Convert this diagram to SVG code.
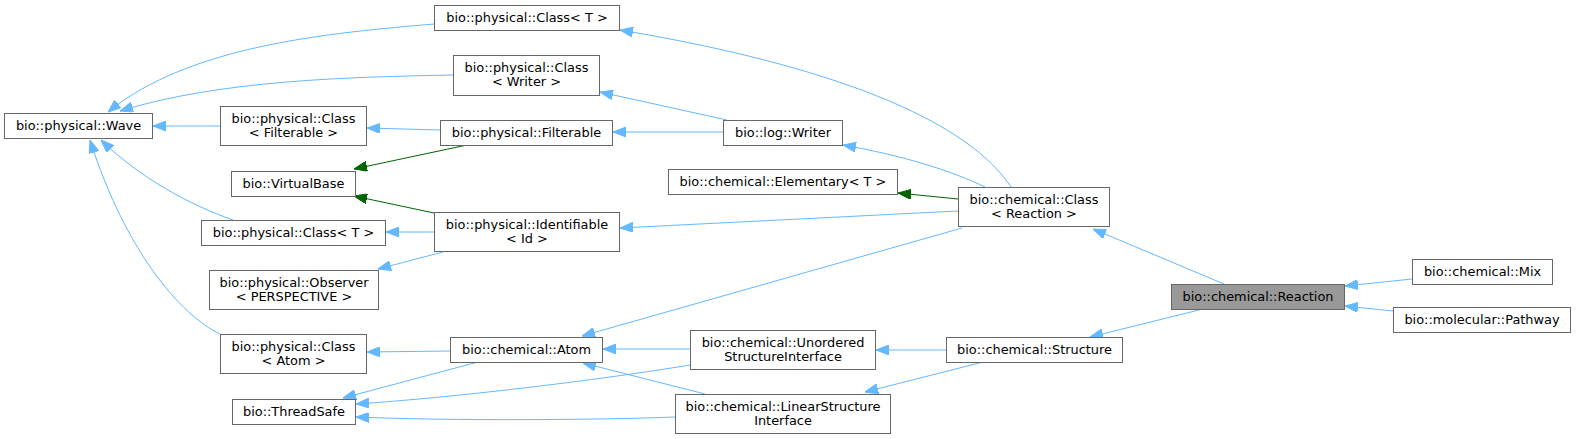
<svg xmlns="http://www.w3.org/2000/svg" width="1577" height="439" viewBox="0 0 1577 439">
<style>
.n rect{fill:#ffffff;stroke:#666666;stroke-width:1}
.n.cur rect{fill:#999999}
.n text{font-family:"DejaVu Sans","Liberation Sans",sans-serif;font-size:12.9px;fill:#000000;text-anchor:middle}
.e path{fill:none;stroke-width:1}
.b{stroke:#63b8ff;marker-end:url(#ab)}
.g{stroke:#006400;marker-end:url(#ag)}
</style>
<defs>
<marker id="ab" markerUnits="userSpaceOnUse" viewBox="0 0 13 10" refX="13" refY="5" markerWidth="13" markerHeight="10" orient="auto"><path d="M0,0 L13,5 L0,10 z" fill="#63b8ff" stroke="#63b8ff"/></marker>
<marker id="ag" markerUnits="userSpaceOnUse" viewBox="0 0 13 10" refX="13" refY="5" markerWidth="13" markerHeight="10" orient="auto"><path d="M0,0 L13,5 L0,10 z" fill="#006400" stroke="#006400"/></marker>
</defs>
<rect width="1577" height="439" fill="#ffffff"/>
<g id="edges" class="e">
<path class="b" d="M434,24 C330,33 190,45 108,112"/>
<path class="b" d="M453,75 C350,77 220,80 120,111"/>
<path class="b" d="M220,126 L153,126"/>
<path class="b" d="M233,220 C190,205 140,178 101,140"/>
<path class="b" d="M220,334 C180,315 125,250 90,140"/>
<path class="b" d="M727,120 L600,92"/>
<path class="b" d="M723,132 L613,132"/>
<path class="b" d="M440,130 L367,128"/>
<path class="g" d="M467,145 L354,169"/>
<path class="g" d="M434,213 L354,196"/>
<path class="b" d="M434,232 L386,232"/>
<path class="b" d="M443,252 L378,269"/>
<path class="b" d="M1011,187 C960,110 800,60 620,30"/>
<path class="b" d="M985,187 C950,170 900,155 843,145"/>
<path class="g" d="M958,199 L898,193"/>
<path class="b" d="M958,211 L620,228"/>
<path class="b" d="M962,228 L582,336"/>
<path class="b" d="M1224,284 L1093,229"/>
<path class="b" d="M1412,279 L1345,286"/>
<path class="b" d="M1393,311 L1345,306"/>
<path class="b" d="M1203,309 L1090,337"/>
<path class="b" d="M946,350 L876,350"/>
<path class="b" d="M983,362 L865,392"/>
<path class="b" d="M690,349 L603,349"/>
<path class="b" d="M705,394 L583,363"/>
<path class="b" d="M450,351 L367,352"/>
<path class="b" d="M478,362 L343,398"/>
<path class="b" d="M690,365 C600,380 450,398 356,404"/>
<path class="b" d="M675,417 C600,420 450,421 356,417"/>
</g>
<g id="n_wave" class="n"><rect x="4.5" y="113.5" width="148" height="25"/><text x="78.5" y="130">bio::physical::Wave</text></g>
<g id="n_classT1" class="n"><rect x="434.5" y="5.5" width="185" height="25"/><text x="527" y="22">bio::physical::Class&lt; T &gt;</text></g>
<g id="n_classWriter" class="n"><rect x="453.5" y="55.5" width="146" height="40"/><text x="526.5" y="72">bio::physical::Class</text><text x="526.5" y="86">&lt; Writer &gt;</text></g>
<g id="n_classFilterable" class="n"><rect x="220.5" y="106.5" width="146" height="39"/><text x="293.5" y="123">bio::physical::Class</text><text x="293.5" y="137">&lt; Filterable &gt;</text></g>
<g id="n_filterable" class="n"><rect x="440.5" y="120.5" width="172" height="25"/><text x="526.5" y="137">bio::physical::Filterable</text></g>
<g id="n_logWriter" class="n"><rect x="723.5" y="120.5" width="119" height="25"/><text x="783" y="137">bio::log::Writer</text></g>
<g id="n_virtualBase" class="n"><rect x="231.5" y="171.5" width="124" height="25"/><text x="293.5" y="188">bio::VirtualBase</text></g>
<g id="n_classT2" class="n"><rect x="201.5" y="220.5" width="184" height="25"/><text x="293.5" y="237">bio::physical::Class&lt; T &gt;</text></g>
<g id="n_observer" class="n"><rect x="209.5" y="270.5" width="169" height="39"/><text x="294" y="287">bio::physical::Observer</text><text x="294" y="301">&lt; PERSPECTIVE &gt;</text></g>
<g id="n_identifiable" class="n"><rect x="434.5" y="212.5" width="185" height="39"/><text x="527" y="229">bio::physical::Identifiable</text><text x="527" y="243">&lt; Id &gt;</text></g>
<g id="n_elementary" class="n"><rect x="668.5" y="169.5" width="229" height="25"/><text x="783" y="186">bio::chemical::Elementary&lt; T &gt;</text></g>
<g id="n_chemClassReaction" class="n"><rect x="958.5" y="187.5" width="151" height="39"/><text x="1034" y="204">bio::chemical::Class</text><text x="1034" y="218">&lt; Reaction &gt;</text></g>
<g id="n_reaction" class="n cur"><rect x="1171.5" y="284.5" width="173" height="25"/><text x="1258" y="301">bio::chemical::Reaction</text></g>
<g id="n_mix" class="n"><rect x="1412.5" y="259.5" width="140" height="25"/><text x="1482.5" y="276">bio::chemical::Mix</text></g>
<g id="n_pathway" class="n"><rect x="1393.5" y="307.5" width="177" height="25"/><text x="1482" y="324">bio::molecular::Pathway</text></g>
<g id="n_classAtom" class="n"><rect x="220.5" y="334.5" width="146" height="39"/><text x="293.5" y="351">bio::physical::Class</text><text x="293.5" y="365">&lt; Atom &gt;</text></g>
<g id="n_threadSafe" class="n"><rect x="232.5" y="399.5" width="123" height="25"/><text x="294" y="416">bio::ThreadSafe</text></g>
<g id="n_atom" class="n"><rect x="450.5" y="337.5" width="152" height="25"/><text x="526.5" y="354">bio::chemical::Atom</text></g>
<g id="n_unordered" class="n"><rect x="690.5" y="330.5" width="185" height="39"/><text x="783" y="347">bio::chemical::Unordered</text><text x="783" y="361">StructureInterface</text></g>
<g id="n_linear" class="n"><rect x="675.5" y="394.5" width="215" height="39"/><text x="783" y="411">bio::chemical::LinearStructure</text><text x="783" y="425">Interface</text></g>
<g id="n_structure" class="n"><rect x="946.5" y="337.5" width="176" height="25"/><text x="1034.5" y="354">bio::chemical::Structure</text></g>
</svg>
